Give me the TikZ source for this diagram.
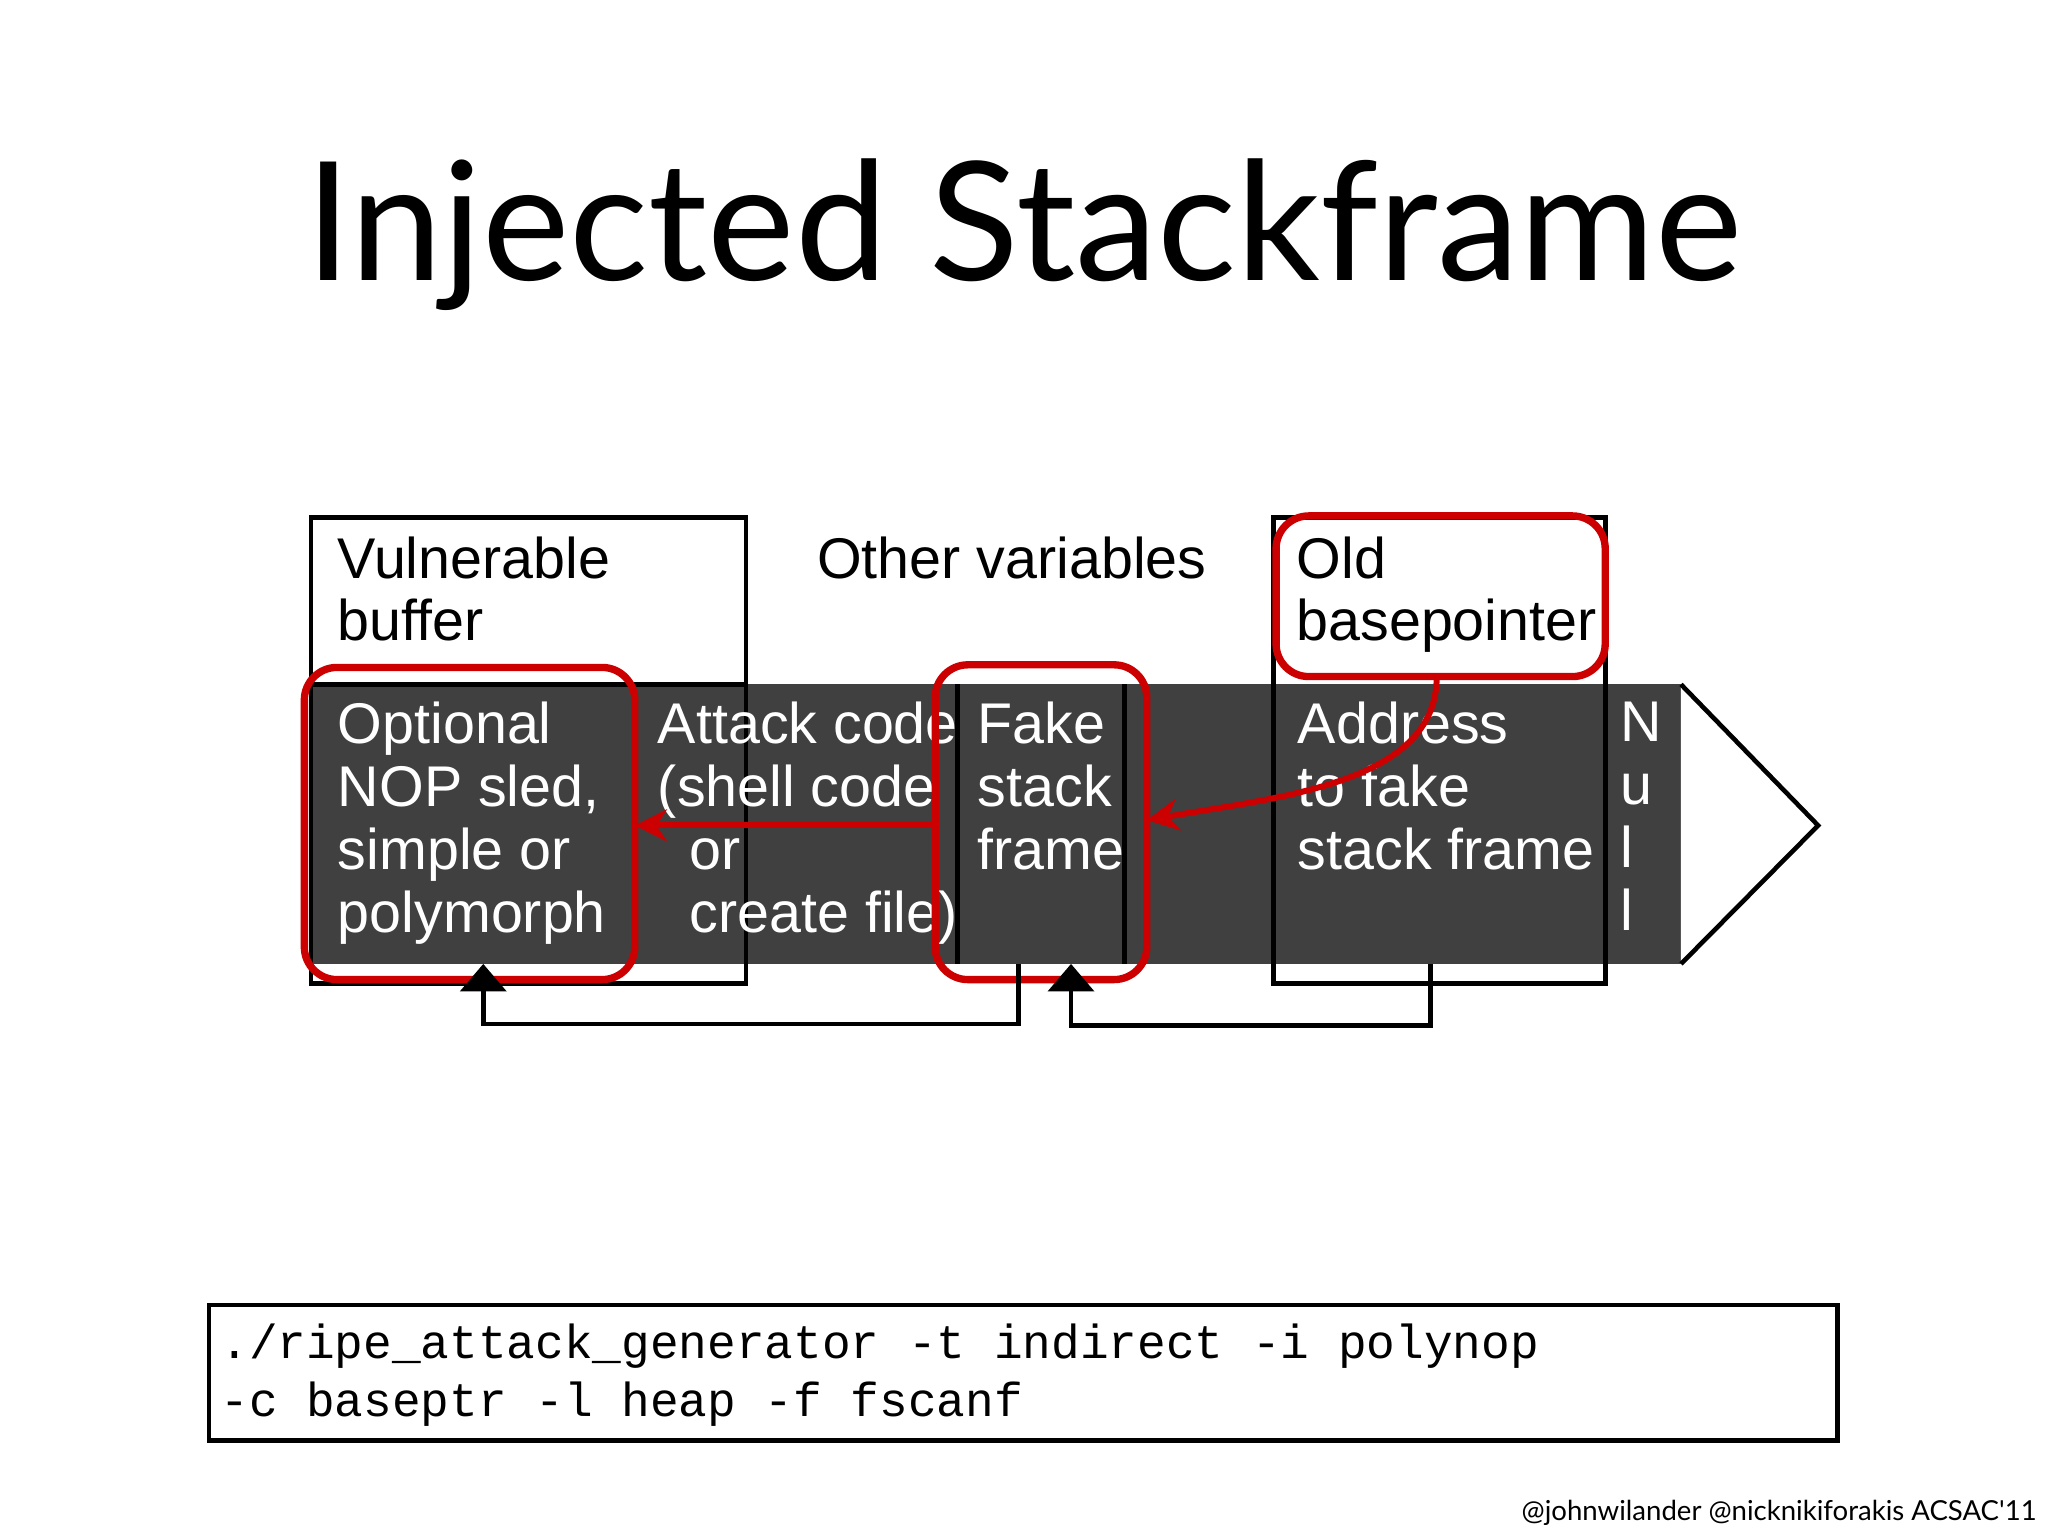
\documentclass[tikz,border=0pt]{standalone}
\usepackage{fontspec}
\setmainfont{Liberation Sans}
\newfontfamily\titlefont{Lato}
\setmonofont{Liberation Mono}
\usetikzlibrary{arrows.meta}
\begin{document}
\begin{tikzpicture}[x=0.01cm,y=-0.01cm,
  lbl/.style={anchor=north west,inner sep=0pt,align=left,font=\fontsize{12.5}{13.7}\selectfont},
  wlbl/.style={lbl,text=white},
  redbox/.style={draw=red!80!black,line width=1.6pt,rounded corners=0.25cm},
  redarrow/.style={draw=red!80!black,line width=1.3pt,-{Stealth[length=7pt,width=7pt]}},
  blk/.style={draw=black,line width=1pt},
  blkarrow/.style={blk,-{Triangle[length=6pt,width=10pt]}}]
\useasboundingbox (0,0) rectangle (1568,1176);
\node[font=\titlefont\fontsize{36}{40}\selectfont] (title) at (784,180) {Injected Stackframe};
% band
\fill[fill=black!75] (238,524) rectangle (1287,738);
\draw[blk,fill=white] (1287,524) -- (1392,632) -- (1287,738);
\draw[blk] (238,524) rectangle (571,753);
\draw[blk] (238,524) -- (238,396) -- (571,396) -- (571,524);
\draw[blk] (975,396) rectangle (1229,753);
\draw[blk] (733,524) -- (733,738);
\draw[blk] (861,524) -- (861,738);
\node[lbl] (vb) at (258,410) {Vulnerable\\buffer};
\node[lbl] (ov) at (625,410) {Other variables};
\node[lbl] (ob) at (992,410) {Old\\basepointer};
\node[wlbl] (nop) at (258,537) {Optional\\NOP sled,\\simple or\\polymorph};
\node[wlbl] (atk) at (503,537) {Attack code\\(shell code\\\ \ or\\\ \ create file)};
\node[wlbl] (fake) at (748,537) {Fake\\stack\\frame};
\node[wlbl] (addr) at (993,537) {Address\\to fake\\stack frame};
\node[wlbl] (null) at (1240,537) {N\\u\\l\\l};
% red boxes
\draw[redbox] (233,511) rectangle (486,750);
\draw[redbox] (716,509) rectangle (878,750);
\draw[redbox] (977,395) rectangle (1229,518);
\coordinate (fl) at (716,632);
\coordinate (nr) at (486,632);
\draw[redarrow] (fl) -- (nr);
\coordinate (obb) at (1100,518);
\coordinate (fr) at (878,628);
\draw[redarrow] (obb) .. controls (1100,600) and (980,610) .. (fr);
% black connectors
\coordinate (c1) at (780,738);
\coordinate (c1t) at (370,738);
\draw[blkarrow] (c1) -- (780,784) -- (370,784) -- (c1t);
\coordinate (c2) at (1095,738);
\coordinate (c2t) at (820,738);
\draw[blkarrow] (c2) -- (1095,785) -- (820,785) -- (c2t);
% command
\draw[blk] (160,999) rectangle (1407,1103);
\node[anchor=north west,inner sep=0pt,align=left,font=\ttfamily\fontsize{10.4}{12.6}\selectfont] (cmd) at (168,1013) {./ripe\_attack\_generator -t indirect -i polynop\\-c baseptr -l heap -f fscanf};
\node[anchor=east,inner sep=0pt,font=\titlefont\fontsize{6}{7}\selectfont] (foot) at (1560,1158) {@johnwilander @nicknikiforakis ACSAC'11};
\end{tikzpicture}
\end{document}
